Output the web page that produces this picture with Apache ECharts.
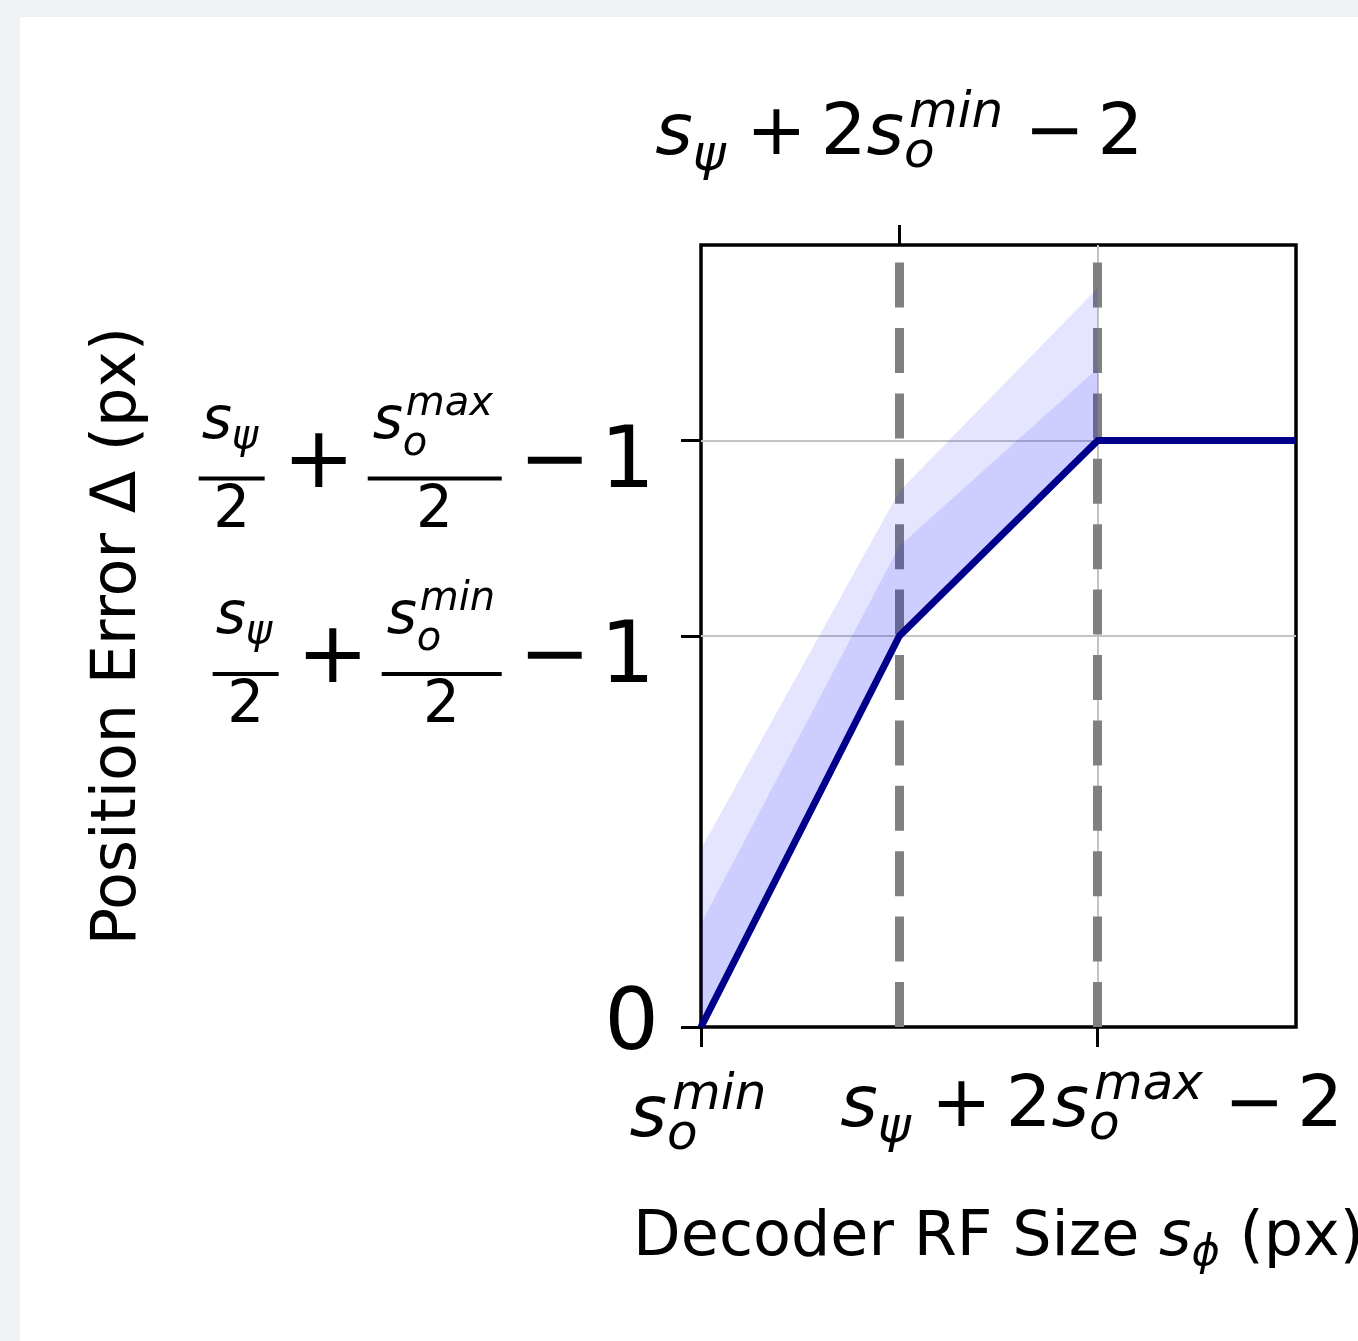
<!DOCTYPE html>
<html>
<head>
<meta charset="utf-8">
<script src="https://cdn.jsdelivr.net/npm/echarts@6/dist/echarts.min.js"></script>
<style>
html, body { margin: 0; padding: 0; background: #eef2f3; width: 1358px; height: 1341px; overflow: hidden; }
#chart { position: absolute; left: 20px; top: 17px; width: 1338px; height: 1324px; background: #ffffff; }
</style>
</head>
<body>
<div id="chart"></div>
<script>
// ---------------- data ----------------
const lineX = [0, 1, 2, 3];            // break points of the piecewise curve (axis units)
const lineY = [0, 2, 3, 3];            // position error along the curve
const bandX = [0, 1, 2];               // x where the shaded bands are defined
const bandLower = [0, 2, 3];           // lower edge of both bands (the curve)
const bandOuterUpper = [0.91, 2.74, 3.78];  // light band upper edge
const bandInnerUpper = [0.53, 2.46, 3.37];  // darker band upper edge
const dashedX = [1, 2];                // vertical dashed reference lines
const gridLinesY = [2, 3];             // light horizontal grid lines
const gridLinesX = [2];                // light vertical grid line
const yTicks = [0, 2, 3];
const yTickSup = ['', 'min', 'max'];   // superscript of s_o in the y tick fractions
const xBottomTicks = [0, 2];
const xBottomSup = ['min', 'max'];
const xBottomFull = [false, true];     // false: just s_o^sup, true: s_psi + 2 s_o^sup - 2
const xTopTicks = [1];
const xTopSup = ['min'];
const xName = ['Decoder RF Size ', 's', 'ϕ', ' (px)'];
const yName = 'Position Error Δ (px)';

// ---------------- rich text helpers ----------------
const FONT = 'DejaVu Sans';
const rich = {};
function st(name, o) {
  rich[name] = Object.assign({ fontFamily: FONT, align: 'left', color: '#000', fontStyle: 'normal' }, o);
  return name;
}
function tok(name, text) { return '{' + name + '|' + text + '}'; }
function sp(w, lh) {
  const n = 'sp' + String(w).replace('.', '_') + '_' + lh;
  if (!rich[n]) st(n, { width: w, lineHeight: lh, fontSize: 8 });
  return tok(n, ' ');
}
// y fraction labels (base 86px, fraction parts 58px, scripts 40px)
st('zero', { fontSize: 86, lineHeight: 100 });
st('fs', { fontSize: 58, fontStyle: 'italic', lineHeight: 52, width: 30 });
st('fsubp', { fontSize: 40, fontStyle: 'italic', lineHeight: 52, width: 30, padding: [30, 0, 0, 0] });
st('fsubo', { fontSize: 40, fontStyle: 'italic', lineHeight: 52, width: 3, padding: [44, 0, 0, 0] });
st('fsup', { fontSize: 40, fontStyle: 'italic', lineHeight: 52, padding: [0, 0, 36, 0] });
st('op', { fontSize: 86, lineHeight: 32 });
st('den', { fontSize: 58, lineHeight: 62 });
function bar(w) {
  const n = 'bar' + w;
  if (!rich[n]) st(n, { width: w, height: 4, fontSize: 4, lineHeight: 32, verticalAlign: 'bottom', backgroundColor: '#000' });
  return tok(n, ' ');
}
// x labels (72px, scripts 50px)
st('xs', { fontSize: 72, fontStyle: 'italic', lineHeight: 80 });
st('xr', { fontSize: 72, lineHeight: 80 });
st('xsubp', { fontSize: 50, fontStyle: 'italic', lineHeight: 80, width: 40, padding: [44, 0, 0, 0] });
st('xsubo', { fontSize: 50, fontStyle: 'italic', lineHeight: 80, width: 5, padding: [39, 0, 0, 0] });
st('xsup', { fontSize: 50, fontStyle: 'italic', lineHeight: 80, padding: [0, 0, 41, 0] });

function yLabel(sup) {
  if (!sup) return tok('zero', '0');
  const b2 = sup === 'max' ? 134 : 120;
  const d2 = sup === 'max' ? 166 : 159;
  const L0 = sp(1, 58);
  const L1 = sp(3, 52) + tok('fs', 's') + tok('fsubp', 'ψ') + sp(111, 52) + tok('fs', 's') + tok('fsubo', 'o') + tok('fsup', sup);
  const L2 = bar(66) + sp(18, 32) + tok('op', '+') + sp(13, 32) + bar(b2) + sp(17, 32) + tok('op', '−') + sp(9.5, 32) + tok('op', '1') + sp(4, 32);
  const L3 = sp(14.5, 62) + tok('den', '2') + sp(d2, 62) + tok('den', '2');
  return [L0, L1, L2, L3].join('\n');
}
function soLabel(sup) {
  return tok('xs', 's') + tok('xsubo', 'o') + tok('xsup', sup);
}
function xLabel(sup, full, trail, gap) {
  let s;
  if (!full) {
    s = soLabel(sup);
  } else {
    s = tok('xs', 's') + tok('xsubp', 'ψ') + sp(13.5, 80) + tok('xr', '+') + sp(14, 80) + tok('xr', '2') +
        soLabel(sup) + sp(21, 80) + tok('xr', '−') + sp(13, 80) + tok('xr', '2');
  }
  if (trail) s += sp(trail, 80);
  if (gap) s = sp(1, gap) + '\n' + s;
  return s;
}

// axis name styles
st('nm', { fontSize: 62, lineHeight: 70 });
st('nmi', { fontSize: 62, fontStyle: 'italic', lineHeight: 70 });
st('nmsub', { fontSize: 43, fontStyle: 'italic', lineHeight: 70, padding: [30, 0, 0, 0] });

// build every label string up front so all rich styles exist before setOption
const yTickLabels = yTicks.map((v, i) => yLabel(yTickSup[i]));
const xBottomLabels = xBottomTicks.map((v, i) => xLabel(xBottomSup[i], xBottomFull[i], xBottomFull[i] ? 12 : 6, xBottomFull[i] ? 0 : 10));
const xTopLabels = xTopTicks.map((v, i) => xLabel(xTopSup[i], true, 0, 0));
const xNameRich = tok('nm', xName[0]) + tok('nmi', xName[1]) + tok('nmsub', xName[2]) + tok('nm', xName[3]);

const chart = echarts.init(document.getElementById('chart'), null, { renderer: 'canvas' });

function bandSeries(upper, color, z) {
  return {
    type: 'custom', silent: true, z: z, animation: false,
    data: bandX.map((x, i) => [x, upper[i]]),
    encode: { x: 0, y: 1 },
    renderItem: function (params, api) {
      if (params.dataIndex !== 0) return null;
      const pts = [];
      for (let i = 0; i < bandX.length; i++) pts.push(api.coord([bandX[i], upper[i]]));
      for (let i = bandX.length - 1; i >= 0; i--) pts.push(api.coord([bandX[i], bandLower[i]]));
      return { type: 'polygon', shape: { points: pts }, style: { fill: color } };
    }
  };
}

const tickStyle = { show: true, length: 20, inside: false, lineStyle: { color: '#000', width: 3 } };
function lookup(ticks, labels) {
  return function (v) {
    for (let i = 0; i < ticks.length; i++) if (Math.abs(ticks[i] - v) < 1e-9) return labels[i];
    return '';
  };
}

const option = {
  animation: false,
  backgroundColor: '#ffffff',
  grid: {
    left: 681, top: 228, width: 595, height: 782,
    containLabel: false, outerBoundsMode: 'none',
    show: true, borderColor: '#000', borderWidth: 3.5, backgroundColor: 'transparent'
  },
  xAxis: [
    {
      type: 'value', position: 'bottom', min: 0, max: 3,
      axisLine: { show: false }, splitLine: { show: false },
      axisTick: Object.assign({ customValues: xBottomTicks }, tickStyle),
      axisLabel: {
        customValues: xBottomTicks, margin: 40, color: '#000', fontFamily: FONT, fontSize: 72, rich: rich,
        hideOverlap: false,
        formatter: lookup(xBottomTicks, xBottomLabels)
      },
      name: xNameRich,
      nameLocation: 'middle', nameGap: 177, nameMoveOverlap: false,
      nameTextStyle: { color: '#000', fontFamily: FONT, fontSize: 62, lineHeight: 70, rich: rich }
    },
    {
      type: 'value', position: 'top', min: 0, max: 3,
      axisLine: { show: false }, splitLine: { show: false },
      axisTick: Object.assign({ customValues: xTopTicks }, tickStyle),
      axisLabel: {
        customValues: xTopTicks, margin: 70, color: '#000', fontFamily: FONT, fontSize: 72, rich: rich,
        hideOverlap: false,
        formatter: lookup(xTopTicks, xTopLabels)
      }
    }
  ],
  yAxis: [
    {
      type: 'value', position: 'left', min: 0, max: 4,
      axisLine: { show: false }, splitLine: { show: false },
      axisTick: Object.assign({ customValues: yTicks }, tickStyle),
      axisLabel: {
        customValues: yTicks, margin: 42, color: '#000', fontFamily: FONT, fontSize: 86, rich: rich,
        hideOverlap: false, showMinLabel: true, showMaxLabel: true,
        formatter: lookup(yTicks, yTickLabels)
      },
      name: yName, nameLocation: 'middle', nameGap: 547.5, nameMoveOverlap: false,
      nameTextStyle: { color: '#000', fontFamily: FONT, fontSize: 62, lineHeight: 70 }
    }
  ],
  series: [
    {
      type: 'line', data: [], z: 0, silent: true,
      markLine: {
        z: 0, silent: true, animation: false, symbol: ['none', 'none'], label: { show: false },
        lineStyle: { color: '#c4c4c4', width: 2, type: 'solid' },
        emphasis: { disabled: true },
        data: gridLinesY.map(v => ({ yAxis: v })).concat(gridLinesX.map(v => ({ xAxis: v })))
      }
    },
    {
      type: 'line', data: [], z: 1, silent: true,
      markLine: {
        z: 1, silent: true, animation: false, symbol: ['none', 'none'], label: { show: false },
        lineStyle: { color: '#808080', width: 9, type: [45, 20.4] },
        emphasis: { disabled: true },
        data: dashedX.map(v => ({ xAxis: v }))
      }
    },
    bandSeries(bandOuterUpper, 'rgba(0,0,255,0.1)', 2),
    bandSeries(bandInnerUpper, 'rgba(0,0,255,0.1)', 2),
    {
      type: 'custom', z: 6, silent: true, animation: false,
      data: lineX.map((x, i) => [x, lineY[i]]),
      encode: { x: 0, y: 1 },
      renderItem: function (params, api) {
        if (params.dataIndex !== 0) return null;
        const pts = lineX.map((x, i) => api.coord([x, lineY[i]]));
        return {
          type: 'polyline', shape: { points: pts },
          style: { stroke: '#00008b', lineWidth: 7, fill: null, lineJoin: 'round', lineCap: 'butt' }
        };
      }
    }
  ]
};
chart.setOption(option);
</script>
</body>
</html>
